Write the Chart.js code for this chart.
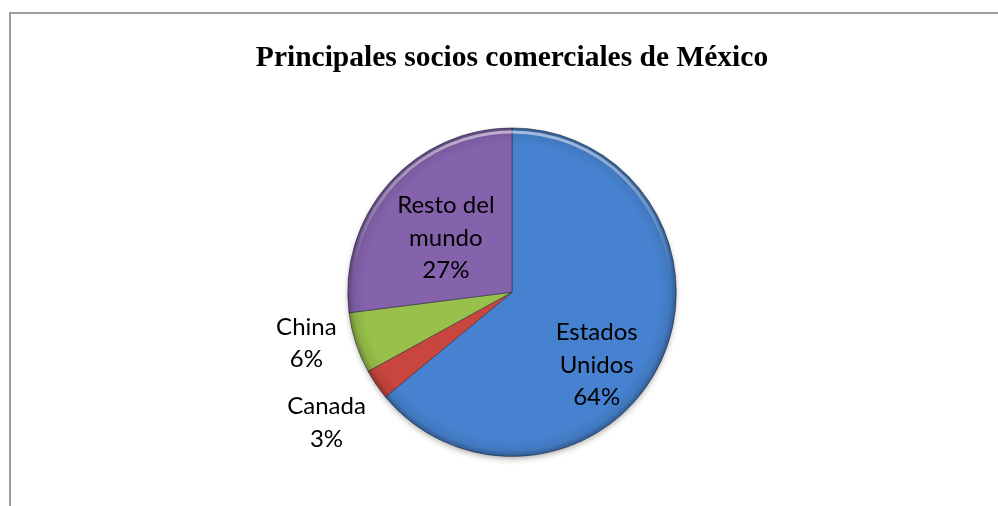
<!DOCTYPE html>
<html>
<head>
<meta charset="utf-8">
<script src="https://cdn.jsdelivr.net/npm/chart.js@4"></script>
<style>
    body { margin: 0; background: #fff; overflow: hidden; }
    .frame {
        position: absolute; left: 9px; top: 12px; width: 1200px; height: 800px;
        border-left: 2px solid #9c9c9c; border-top: 2px solid #9c9c9c;
    }
    .wrap { position: absolute; left: 0; top: 0; width: 998px; height: 506px; }
</style>
</head>
<body>
<div class="frame"></div>
<div class="wrap"><canvas id="grafica"></canvas></div>
<script>
// Datos
const paises = ['Estados Unidos', 'Canada', 'China', 'Resto del mundo'];
const porcentajes = [64, 3, 6, 27];
const etiquetas = [['Estados', 'Unidos', '64%'], ['Canada', '3%'], ['China', '6%'], ['Resto del', 'mundo', '27%']];
const colores = ['#4682cf', '#c9463f', '#98c04a', '#8462ac'];

// ubicación de cada etiqueta: [ángulo en grados, fracción del radio]
const posEtiquetas = [[40.7, 0.68], [144.9, 1.38], [166, 1.29], [219.3, 0.52]];

function aclarar(hex, f) {
    let n = parseInt(hex.slice(1), 16);
    let r = n >> 16, g = (n >> 8) & 255, b = n & 255;
    const m = v => Math.max(0, Math.min(255, Math.round(f > 0 ? v + (255 - v) * f : v * (1 + f))));
    return 'rgb(' + m(r) + ',' + m(g) + ',' + m(b) + ')';
}

function relleno(c) {
    const chart = c.chart;
    const base = colores[c.dataIndex];
    const meta = chart.getDatasetMeta(0);
    const arc = meta.data[c.dataIndex];
    if (!arc || !arc.outerRadius) return base;
    const g = chart.ctx.createLinearGradient(0, arc.y - arc.outerRadius, 0, arc.y + arc.outerRadius);
    g.addColorStop(0, aclarar(base, 0.1));
    g.addColorStop(1, aclarar(base, -0.2));
    return g;
}

// sombra suave bajo el pastel
const sombra = {
    id: 'sombra',
    beforeDatasetsDraw(chart) {
        const arc = chart.getDatasetMeta(0).data[0];
        if (!arc) return;
        const c = chart.ctx;
        c.save();
        c.shadowColor = 'rgba(0,0,0,0.35)';
        c.shadowBlur = 6;
        c.shadowOffsetY = 3;
        c.beginPath();
        c.arc(arc.x, arc.y, arc.outerRadius - 1, 0, Math.PI * 2);
        c.fillStyle = '#fff';
        c.fill();
        c.restore();
    }
};

// bisel en el borde de cada porción
const bisel = {
    id: 'bisel',
    afterDatasetsDraw(chart) {
        const c = chart.ctx;
        chart.getDatasetMeta(0).data.forEach(arc => {
            const r = arc.outerRadius;
            c.save();
            c.beginPath();
            c.moveTo(arc.x, arc.y);
            c.arc(arc.x, arc.y, r, arc.startAngle, arc.endAngle);
            c.closePath();
            c.clip();
            const rg = c.createRadialGradient(arc.x, arc.y, 0, arc.x, arc.y, r);
            rg.addColorStop(0, 'rgba(0,0,0,0)');
            rg.addColorStop(0.9, 'rgba(0,0,0,0)');
            rg.addColorStop(0.965, 'rgba(0,0,0,0.08)');
            rg.addColorStop(1, 'rgba(0,0,0,0.3)');
            c.fillStyle = rg;
            c.fillRect(arc.x - r, arc.y - r, r * 2, r * 2);
            // brillo superior del borde
            const lg = c.createLinearGradient(0, arc.y - r, 0, arc.y + r);
            lg.addColorStop(0, 'rgba(255,255,255,0.55)');
            lg.addColorStop(0.45, 'rgba(255,255,255,0)');
            c.strokeStyle = lg;
            c.lineWidth = 3;
            c.beginPath();
            c.arc(arc.x, arc.y, r - 4, arc.startAngle, arc.endAngle);
            c.stroke();
            c.restore();
        });
    }
};

const textos = {
    id: 'textos',
    afterDraw(chart) {
        const c = chart.ctx;
        const meta = chart.getDatasetMeta(0);
        c.save();
        c.font = '24px Lato';
        c.fillStyle = '#000';
        c.textAlign = 'center';
        c.textBaseline = 'middle';
        meta.data.forEach((arc, i) => {
            const [ang, fr] = posEtiquetas[i];
            const a = ang * Math.PI / 180;
            const x = arc.x + Math.cos(a) * arc.outerRadius * fr;
            const y = arc.y + Math.sin(a) * arc.outerRadius * fr;
            const lineas = etiquetas[i];
            const alto = 32.5;
            lineas.forEach((t, k) => {
                c.fillText(t, x, y + (k - (lineas.length - 1) / 2) * alto);
            });
        });
        c.restore();
    }
};

new Chart(document.getElementById('grafica'), {
    type: 'pie',
    data: {
        labels: paises,
        datasets: [{
            data: porcentajes,
            backgroundColor: relleno,
            borderColor: 'rgba(40,40,60,0.55)',
            borderWidth: 1
        }]
    },
    options: {
        responsive: true,
        maintainAspectRatio: false,
        animation: false,
        layout: { padding: { left: 26, right: 0, top: 0, bottom: 49 } },
        plugins: {
            legend: { display: false },
            tooltip: { enabled: false },
            title: {
                display: true,
                text: 'Principales socios comerciales de México',
                color: '#000',
                font: { family: 'Liberation Serif', size: 29.5, weight: 'bold', lineHeight: 1.2 },
                padding: { top: 41, bottom: 51 }
            }
        }
    },
    plugins: [sombra, bisel, textos]
});
</script>
</body>
</html>
